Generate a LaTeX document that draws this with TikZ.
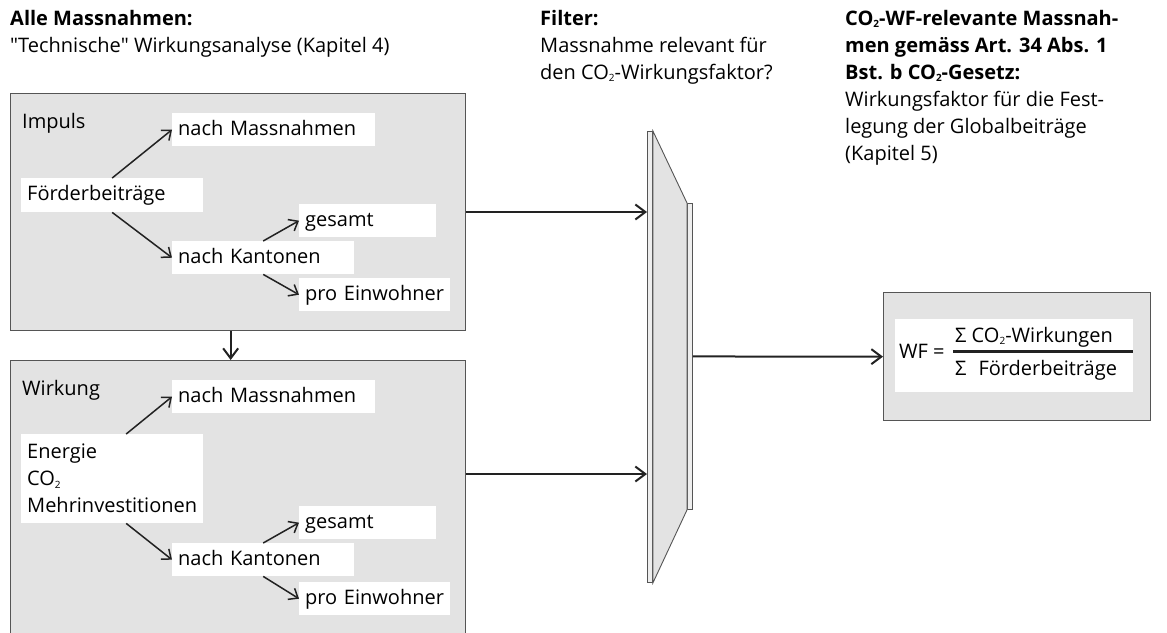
\documentclass[tikz,border=0pt]{standalone}
\usepackage{fontspec}
\setmainfont{Open Sans}
\newfontfamily\plainsans{Open Sans}
\usetikzlibrary{arrows.meta}

\definecolor{panelfill}{HTML}{E3E3E3}
\definecolor{paneledge}{HTML}{555555}
\definecolor{inkline}{HTML}{222222}
\newcommand{\cotwo}{CO\raisebox{-2.5pt}{\fontsize{10}{10}\selectfont 2}}
\newcommand{\strq}{{\plainsans"}}

\begin{document}
\begin{tikzpicture}[x=1pt, y=-1pt, font=\fontsize{20}{27}\selectfont,
	panel/.style={rectangle, fill=panelfill, draw=paneledge, line width=1.3pt, anchor=north west, inner sep=0},
	heading/.style={anchor=north west, align=left, inner sep=0},
	tagbox/.style={rectangle, fill=white, anchor=north west, align=left, inner xsep=6pt, inner ysep=0},
	tag/.style={tagbox, minimum height=33pt, text height=14pt, text depth=3pt},
	strip/.style={rectangle, fill=panelfill!60!white, draw=paneledge, line width=0.9pt, anchor=north west, inner sep=0},
	flow/.style={draw=inkline, line width=1.5pt, -{Straight Barb[length=8pt, width=13pt]}},
	link/.style={draw=inkline, line width=2pt, -{Straight Barb[length=10pt, width=15pt]}}]
	\useasboundingbox (0,0) rectangle (1167,632);

	% headings
	\node[heading] (hall) at (10,10) {\bfseries Alle Massnahmen:\\\strq Technische\strq\ Wirkungsanalyse (Kapitel 4)};
	\node[heading] (hfilter) at (540,10) {\bfseries Filter:\\Massnahme relevant für\\den \cotwo-Wirkungsfaktor?};
	\node[heading] (hresult) at (845,10) {\bfseries \cotwo-WF-relevante Massnah-\\\bfseries men gemäss Art. 34 Abs. 1\\\bfseries Bst. b \cotwo-Gesetz:\\Wirkungsfaktor für die Fest-\\legung der Globalbeiträge\\(Kapitel 5)};

	% impuls panel
	\node[panel, minimum width=455pt, minimum height=237pt] (impuls) at (10,93) {};
	\node[anchor=base west, inner sep=0] (impulstitle) at (22,128) {Impuls};
	\node[tag, text width=191pt] (imass) at (172,113) {nach Massnahmen};
	\node[tag, text width=170pt, minimum height=34pt] (ifoerd) at (21,178) {Förderbeiträge};
	\node[tag, text width=125pt] (igesamt) at (299,204) {gesamt};
	\node[tag, text width=170pt] (ikant) at (172,241) {nach Kantonen};
	\node[tag, text width=139pt] (ieinw) at (299,278) {pro Einwohner};

	% wirkung panel
	\node[panel, minimum width=455pt, minimum height=290pt] (wirkung) at (10,360) {};
	\node[anchor=base west, inner sep=0] (wirkungtitle) at (22,395) {Wirkung};
	\node[tag, text width=191pt] (wmass) at (172,380) {nach Massnahmen};
	\node[tagbox, text width=170pt, minimum height=89pt] (wenergie) at (21,434) {Energie\\\cotwo\\Mehrinvestitionen};
	\node[tag, text width=125pt] (wgesamt) at (299,506) {gesamt};
	\node[tag, text width=170pt] (wkant) at (172,543) {nach Kantonen};
	\node[tag, text width=139pt] (weinw) at (299,582) {pro Einwohner};

	% filter
	\node[strip, minimum width=5pt, minimum height=451pt] (filterin) at (647,131) {};
	\node[strip, minimum width=5pt, minimum height=306pt] (filterout) at (687,203) {};
	\draw[fill=panelfill, draw=paneledge, line width=0.9pt] (filterin.north east) -- (filterout.north west) -- (filterout.south west) -- (filterin.south east) -- cycle;
	\coordinate (fin1) at (647,212);
	\coordinate (fin2) at (647,474);

	% result
	\node[panel, minimum width=267pt, minimum height=128pt] (result) at (883,292) {};
	\node[tagbox, minimum width=238pt, minimum height=73pt, inner sep=0] (wfbox) at (895,319) {};
	\node[anchor=base west, inner sep=0] (wflhs) at (899,358) {WF =};
	\node[anchor=base west, inner sep=0] (wfnum) at (955,342) {Σ \cotwo-Wirkungen};
	\node[anchor=base west, inner sep=0] (wfden) at (955,375) {Σ\hspace{12pt}Förderbeiträge};
	\draw[inkline, line width=3pt] ([xshift=-2pt, yshift=-4pt]wfnum.south west) -- ([yshift=-4pt]wfnum.south west -| wfbox.east);

	% edges
	\draw[flow] (ifoerd.north) -- (imass.west);
	\draw[flow] (ifoerd.south) -- (ikant.west);
	\draw[flow] (ikant.north) -- (igesamt.west);
	\draw[flow] (ikant.south) -- (ieinw.west);
	\draw[flow] ([xshift=14pt]wenergie.north) -- (wmass.west);
	\draw[flow] ([xshift=14pt]wenergie.south) -- (wkant.west);
	\draw[flow] (wkant.north) -- (wgesamt.west);
	\draw[flow] (wkant.south) -- (weinw.west);
	\draw[link] ([xshift=-7.5pt]impuls.south) -- ([xshift=-7.5pt]wirkung.north);
	\draw[link] (impuls.east |- fin1) -- (fin1);
	\draw[link] (wirkung.east |- fin2) -- (fin2);
	\draw[link] (filterout.east) -- (result.west);
\end{tikzpicture}
\end{document}
